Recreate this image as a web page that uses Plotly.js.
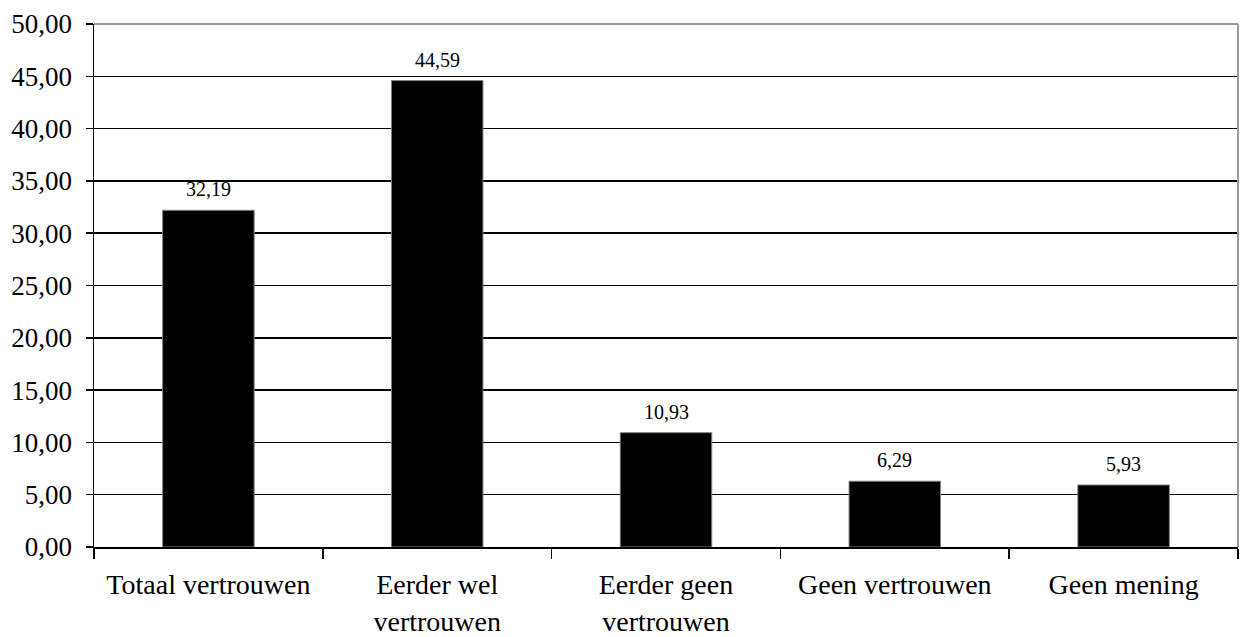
<!DOCTYPE html>
<html>
<head>
<meta charset="utf-8">
<script src="https://cdn.plot.ly/plotly-3.0.1.min.js"></script>
<style>html,body{margin:0;padding:0;background:#fff;}#chart{width:1240px;height:637px;}</style>
</head>
<body>
<div id="chart"></div>
<script>
const categories = ["Totaal vertrouwen", "Eerder wel<br>vertrouwen", "Eerder geen<br>vertrouwen", "Geen vertrouwen", "Geen mening"];
const values = [32.19, 44.59, 10.93, 6.29, 5.93];
const valueLabels = ["32,19", "44,59", "10,93", "6,29", "5,93"];

const FONT = "Liberation Serif";

const trace = {
  type: "bar",
  x: categories,
  y: values,
  marker: {color: "#000000", line: {color: "#808080", width: 1}},
  hoverinfo: "none"
};

const annotations = values.map((v, i) => ({
  x: categories[i], y: v, xref: "x", yref: "y",
  text: valueLabels[i], showarrow: false,
  yanchor: "bottom", yshift: 8,
  font: {family: FONT, size: 20, color: "#000"}
}));

const layout = {
  width: 1240, height: 637,
  margin: {l: 94, r: 2, t: 24, b: 90},
  paper_bgcolor: "#fff", plot_bgcolor: "#fff",
  bargap: 0.6,
  showlegend: false,
  separators: ",.",
  font: {family: FONT, size: 27, color: "#000"},
  xaxis: {
    type: "category",
    tickson: "boundaries",
    ticks: "outside", ticklen: 10, tickwidth: 1.5, tickcolor: "#000",
    showline: true, linecolor: "#000", linewidth: 1.5,
    showgrid: false,
    tickfont: {family: FONT, size: 28, color: "#000"},
    ticklabelstandoff: 12
  },
  yaxis: {
    range: [0, 50], dtick: 5, tick0: 0,
    tickformat: ".2f",
    ticks: "outside", ticklen: 7, tickwidth: 1.5, tickcolor: "#000",
    showline: true, linecolor: "#000", linewidth: 1.5,
    showgrid: true, gridcolor: "#000", gridwidth: 1.5,
    zeroline: false,
    tickfont: {family: FONT, size: 27, color: "#000"},
    ticklabelstandoff: 8
  },
  shapes: [
    {type: "line", xref: "paper", yref: "paper", x0: 0, x1: 1, y0: 1, y1: 1, line: {color: "#9a9a9a", width: 2}},
    {type: "line", xref: "paper", yref: "paper", x0: 1, x1: 1, y0: 0, y1: 1, line: {color: "#9a9a9a", width: 2}}
  ],
  annotations: annotations
};

Plotly.newPlot("chart", [trace], layout, {displayModeBar: false, staticPlot: true});
</script>
</body>
</html>
